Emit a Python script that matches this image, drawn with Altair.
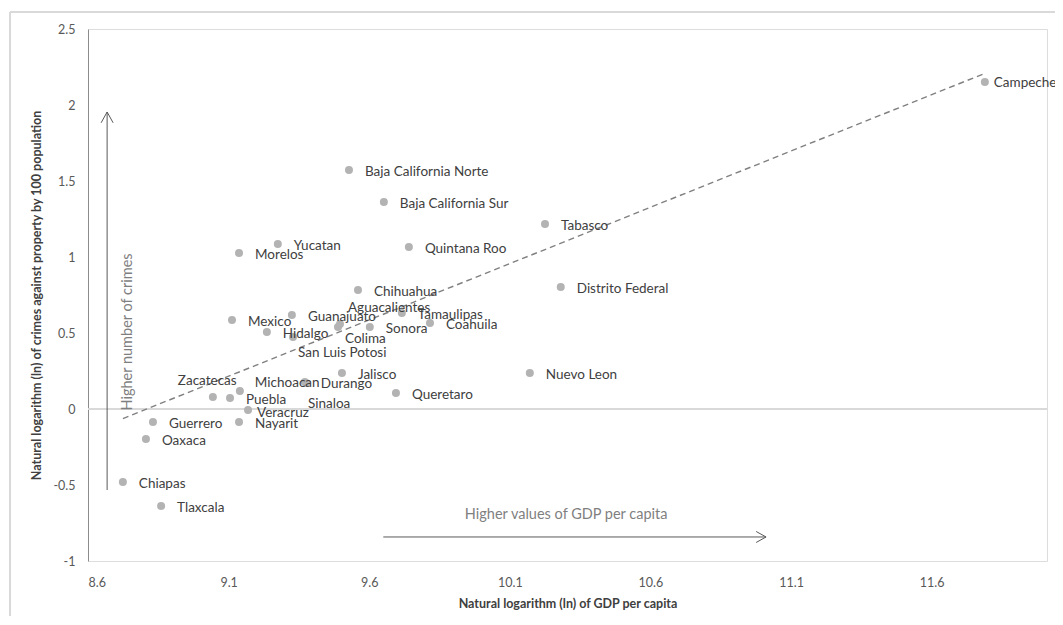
import altair as alt
import pandas as pd

# ---- data ----
states = [
    "Campeche", "Baja California Norte", "Baja California Sur", "Tabasco",
    "Yucatan", "Morelos", "Quintana Roo", "Chihuahua", "Distrito Federal",
    "Mexico", "Guanajuato", "Hidalgo", "San Luis Potosi", "Colima",
    "Aguacalientes", "Sonora", "Tamaulipas", "Coahuila", "Jalisco",
    "Queretaro", "Nuevo Leon", "Zacatecas", "Puebla", "Michoacan",
    "Durango", "Sinaloa", "Veracruz", "Nayarit", "Guerrero", "Oaxaca",
    "Chiapas", "Tlaxcala",
]
gdp_ln = [
    11.789, 9.528, 9.652, 10.225,
    9.275, 9.137, 9.741, 9.560, 10.281,
    9.112, 9.325, 9.236, 9.329, 9.489,
    9.496, 9.602, 9.716, 9.816, 9.503,
    9.695, 10.171, 9.044, 9.105, 9.140,
    9.371, 9.375, 9.169, 9.137, 8.831, 8.806,
    8.724, 8.860,
]
crime_ln = [
    2.151, 1.572, 1.362, 1.217,
    1.086, 1.026, 1.066, 0.783, 0.803,
    0.586, 0.618, 0.507, 0.474, 0.539,
    0.559, 0.539, 0.632, 0.566, 0.237,
    0.105, 0.237, 0.079, 0.072, 0.118,
    0.178, 0.171, -0.007, -0.086, -0.086, -0.197,
    -0.480, -0.638,
]

# linear trend line end points
trend_x = [8.724, 11.789]
trend_y = [-0.063, 2.208]

x_ticks = [8.6, 9.1, 9.6, 10.1, 10.6, 11.1, 11.6]
y_ticks = [-1, -0.5, 0, 0.5, 1, 1.5, 2, 2.5]

# annotation arrows
v_arrow_x = [8.668, 8.668]
v_arrow_y = [-0.533, 1.954]
h_arrow_x = [9.65, 11.011]
h_arrow_y = [-0.842, -0.842]

# ---- label placement (pixel offsets from the point) ----
default_offset = (16, 2)
label_offsets = {
    "Campeche": (9, 1),
    "Zacatecas": (-35, -16),
    "Michoacan": (15, -8),
    "San Luis Potosi": (5, 16),
    "Colima": (7, 12),
    "Aguacalientes": (8, -16),
    "Sinaloa": (2, 21),
    "Veracruz": (9, 3),
}

df = pd.DataFrame({"state": states, "gdp": gdp_ln, "crime": crime_ln})
df["dx"] = [label_offsets.get(s, default_offset)[0] for s in states]
df["dy"] = [label_offsets.get(s, default_offset)[1] for s in states]

trend_df = pd.DataFrame({"gdp": trend_x, "crime": trend_y})
v_df = pd.DataFrame({"gdp": v_arrow_x, "crime": v_arrow_y})
h_df = pd.DataFrame({"gdp": h_arrow_x, "crime": h_arrow_y})

FONT = "Lato"
GREY_TXT = "#404040"

xscale = alt.Scale(domain=[8.6, 12.01], nice=False, zero=False)
yscale = alt.Scale(domain=[-1, 2.5], nice=False, zero=False)

x_enc = alt.X(
    "gdp:Q", scale=xscale,
    axis=alt.Axis(
        title="Natural logarithm (ln) of GDP per capita",
        values=x_ticks, labelExpr="'' + datum.value",
        domain=False, ticks=False, grid=False,
        labelPadding=15, labelFontSize=12.5, labelColor="#595959", labelFont=FONT,
        titleFontSize=12.5, titleFontWeight="bold", titleColor=GREY_TXT,
        titleFont=FONT, titlePadding=9,
    ),
)
y_enc = alt.Y(
    "crime:Q", scale=yscale,
    axis=alt.Axis(
        title="Natural logarithm (ln) of crimes against property by 100 population",
        values=y_ticks, labelExpr="'' + datum.value",
        domain=True, domainColor="#8c8c8c", domainWidth=1,
        ticks=False, grid=False,
        labelPadding=13, labelFontSize=12.5, labelColor="#595959", labelFont=FONT,
        titleFontSize=12.5, titleFontWeight="bold", titleColor=GREY_TXT,
        titleFont=FONT, titlePadding=9,
    ),
)

base = alt.Chart(df)

zero_line = alt.Chart(df).mark_rule(color="#d9d9d9", strokeWidth=1.5).encode(
    y=alt.datum(0, scale=yscale)
)

trend = alt.Chart(trend_df).mark_line(
    color="#808080", strokeDash=[6, 4], strokeWidth=1.4
).encode(x=x_enc, y=y_enc)

points = base.mark_circle(size=64, color="#b3b3b3", opacity=1).encode(x=x_enc, y=y_enc)

# one text layer per offset group
label_layers = []
for (ox, oy) in sorted(set(zip(df["dx"], df["dy"]))):
    label_layers.append(
        base.transform_filter(
            (alt.datum.dx == int(ox)) & (alt.datum.dy == int(oy))
        ).mark_text(
            align="left", baseline="middle", font=FONT, fontSize=13.5,
            color=GREY_TXT, dx=int(ox), dy=int(oy),
        ).encode(x=x_enc, y=y_enc, text="state:N")
    )

v_line = alt.Chart(v_df).mark_line(color="#595959", strokeWidth=1).encode(x=x_enc, y=y_enc)
v_head = alt.Chart(v_df.iloc[[1]]).mark_point(
    shape="M-1,1.8L0,0L1,1.8", filled=False, size=144, color="#595959", strokeWidth=1, opacity=1
).encode(x=x_enc, y=y_enc)

h_line = alt.Chart(h_df).mark_line(color="#595959", strokeWidth=1).encode(x=x_enc, y=y_enc)
h_head = alt.Chart(h_df.iloc[[1]]).mark_point(
    shape="M-1.8,-1L0,0L-1.8,1", filled=False, size=121, color="#595959", strokeWidth=1, opacity=1
).encode(x=x_enc, y=y_enc)

ann_df = pd.DataFrame({
    "gdp": [9.940], "crime": [-0.697], "txt": ["Higher values of GDP per capita"]
})
ann_h = alt.Chart(ann_df).mark_text(
    align="left", baseline="middle", font=FONT, fontSize=14.5, color="#7f7f7f"
).encode(x=x_enc, y=y_enc, text="txt:N")

ann_v_df = pd.DataFrame({
    "gdp": [8.742], "crime": [0.507], "txt": ["Higher number of crimes"]
})
ann_v = alt.Chart(ann_v_df).mark_text(
    align="center", baseline="middle", font=FONT, fontSize=14.5, color="#7f7f7f", angle=270
).encode(x=x_enc, y=y_enc, text="txt:N")

# outer chart frame (left and top edges)
frame_left = alt.Chart(df).mark_rule(color="#d9d9d9", strokeWidth=1.5).encode(
    x=alt.value(-78), y=alt.value(-17), y2=alt.value(590)
)
frame_top = alt.Chart(df).mark_rule(color="#d9d9d9", strokeWidth=1.5).encode(
    x=alt.value(-78), x2=alt.value(970), y=alt.value(-17)
)

chart = alt.layer(
    frame_left, frame_top, zero_line, trend, v_line, v_head, h_line, h_head,
    points, *label_layers, ann_h, ann_v,
).properties(
    width=959, height=532,
    autosize=alt.AutoSizeParams(type="none"),
    padding={"left": 80, "top": 21, "right": 8, "bottom": 55},
).configure_view(stroke=None).configure(background="white")

chart.save("out.html", embed_options={"renderer": "svg", "actions": False})
